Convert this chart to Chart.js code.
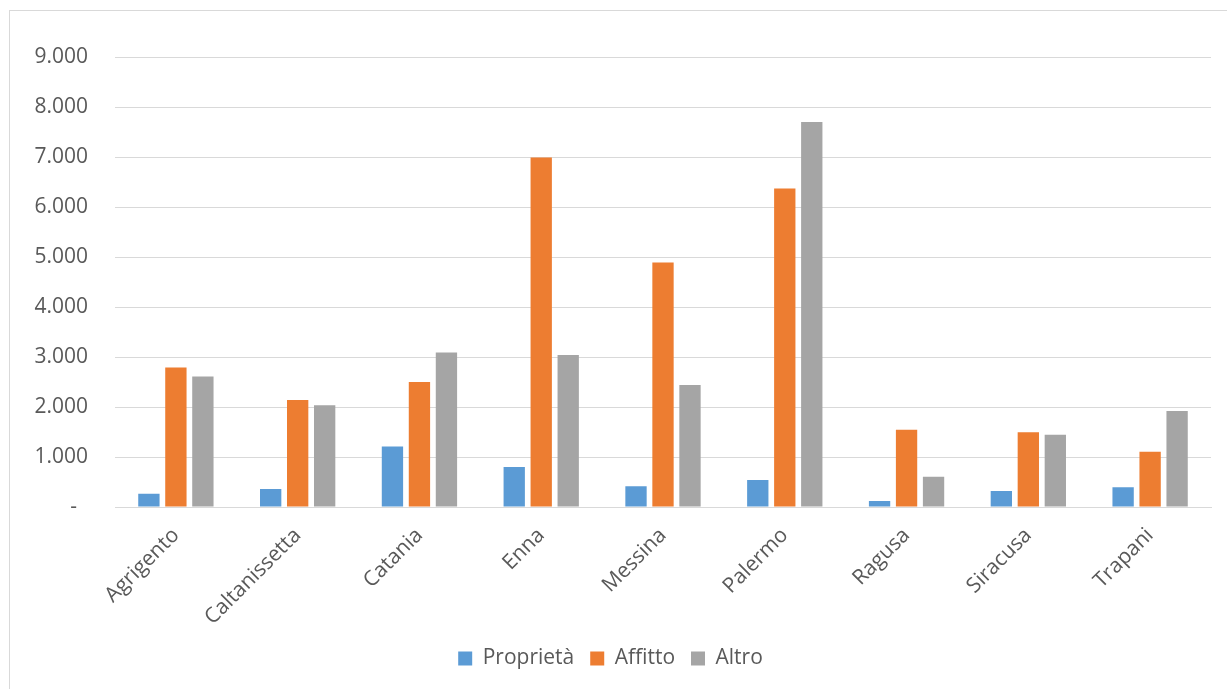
<!DOCTYPE html>
<html lang="it">
<head>
<meta charset="utf-8">
<title>Abitazioni per titolo di godimento</title>
<script src="https://cdn.jsdelivr.net/npm/chart.js@4.4.1/dist/chart.umd.min.js"></script>
<style>
    html, body { margin: 0; padding: 0; background: #fff; overflow: hidden; }
    #box {
        position: absolute; left: 9px; top: 10px;
        width: 1240px; height: 700px;
        border: 1px solid #d9d9d9;
    }
    #grafico { position: absolute; left: 0; top: 0; }
</style>
</head>
<body>
<div id="box">
    <canvas id="grafico" width="1217" height="678"></canvas>
</div>
<script>
// dati
const province = ['Agrigento', 'Caltanissetta', 'Catania', 'Enna', 'Messina', 'Palermo', 'Ragusa', 'Siracusa', 'Trapani'];
const proprieta = [265, 360, 1210, 800, 415, 540, 120, 320, 395];
const affitto = [2790, 2140, 2500, 6990, 4890, 6370, 1545, 1495, 1105];
const altro = [2610, 2035, 3090, 3040, 2440, 7700, 605, 1445, 1920];
const yTicks = [0, 1000, 2000, 3000, 4000, 5000, 6000, 7000, 8000, 9000];

const testo = '#595959';
const griglia = '#d9d9d9';
const font = 'Open Sans';
const dim = 21;

// formato italiano: 1.000, zero come trattino
function formatta(v) {
    if (v === 0) return '-  ';
    return String(v).replace(/\B(?=(\d{3})+(?!\d))/g, '.');
}

const ctx = document.getElementById('grafico').getContext('2d');

new Chart(ctx, {
    type: 'bar',
    data: {
        labels: province,
        datasets: [
            { label: 'Proprietà', data: proprieta, backgroundColor: '#5b9bd5' },
            { label: 'Affitto', data: affitto, backgroundColor: '#ed7d31' },
            { label: 'Altro', data: altro, backgroundColor: '#a5a5a5' }
        ]
    },
    options: {
        responsive: false,
        animation: false,
        categoryPercentage: 0.665,
        barPercentage: 0.79,
        layout: {
            padding: { top: 46, right: 16, bottom: 10, left: 0 }
        },
        plugins: {
            tooltip: { enabled: false },
            legend: {
                position: 'bottom',
                labels: {
                    color: testo,
                    font: { family: font, size: dim },
                    boxWidth: 14,
                    boxHeight: 14,
                    padding: 16
                }
            }
        },
        scales: {
            x: {
                grid: { display: false },
                border: { display: true, color: griglia, width: 1 },
                ticks: {
                    color: testo,
                    font: { family: font, size: dim },
                    minRotation: 45,
                    maxRotation: 45,
                    padding: 8
                },
                afterFit: (scale) => { scale.height = 125; }
            },
            y: {
                min: 0,
                max: 9000,
                afterBuildTicks: (scale) => {
                    scale.ticks = yTicks.map(v => ({ value: v }));
                },
                grid: { color: griglia, lineWidth: 1, drawTicks: false },
                border: { display: false },
                ticks: {
                    color: testo,
                    font: { family: font, size: dim },
                    padding: 27,
                    callback: (v) => formatta(v)
                },
                afterFit: (scale) => { scale.width = 105; }
            }
        }
    }
});
</script>
</body>
</html>
